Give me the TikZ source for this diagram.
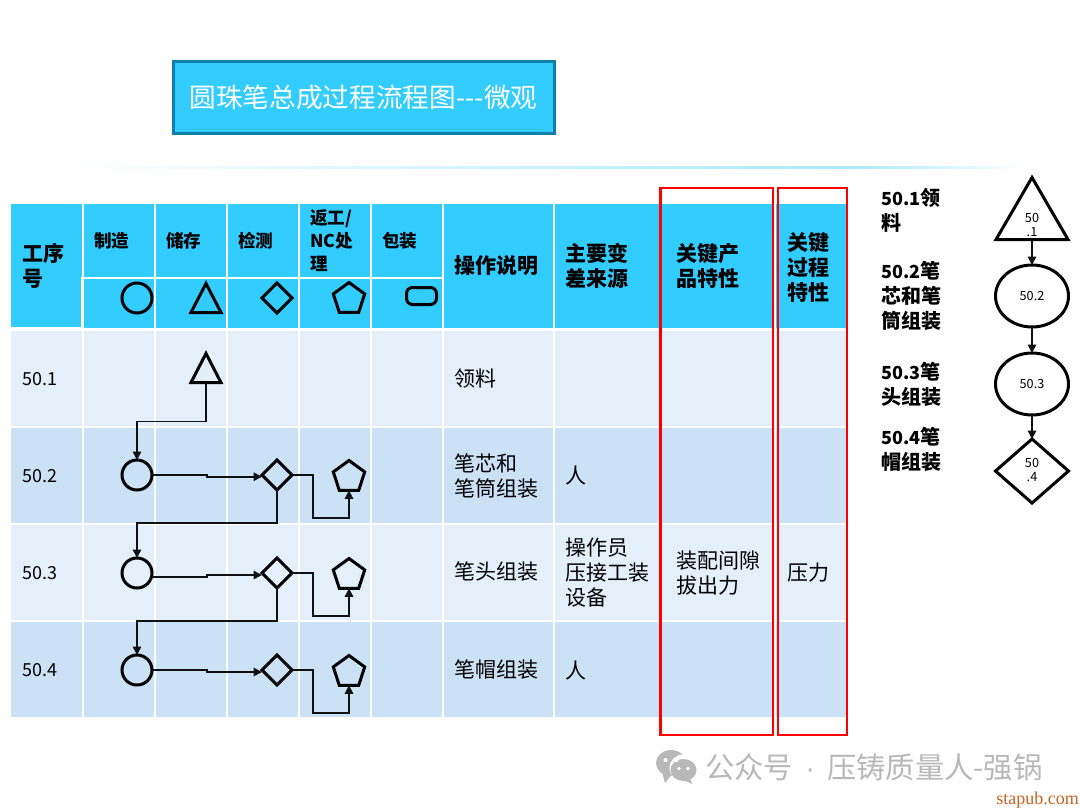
\documentclass[tikz,border=0pt]{standalone}
\usepackage{fontspec}
\setmainfont{Noto Sans CJK SC}
\newfontfamily\serifwm{Liberation Serif}
\newfontfamily\latinwm{Liberation Sans}
\usetikzlibrary{shapes.geometric,arrows.meta}
\definecolor{hdr}{HTML}{33CCFF}
\definecolor{rowa}{HTML}{E4EFF9}
\definecolor{rowb}{HTML}{CBE1F5}
\definecolor{titleedge}{HTML}{107FAB}
\definecolor{flowred}{HTML}{FF0000}
\definecolor{wm}{HTML}{B8B8B8}
\definecolor{wmo}{HTML}{C8641E}
\definecolor{ink}{HTML}{111111}
\newcommand{\fsz}[2]{\fontsize{#1}{#2}\selectfont}
\newcommand{\dg}[1]{{\fontsize{13.5}{18.75}\selectfont #1}}
\tikzset{
  x=0.75pt,y=-0.75pt,
  px/.style={line width=#1*0.75pt},
  sym/.style={draw=black,px=3,inner sep=0pt,outer sep=0pt},
  circ/.style={sym,circle,minimum size=30*0.75pt},
  tri/.style={sym,isosceles triangle,isosceles triangle apex angle=53,isosceles triangle stretches,shape border rotate=90,anchor=apex,minimum width=30*0.75pt,minimum height=29*0.75pt},
  dia/.style={sym,diamond,minimum size=30*0.75pt},
  penta/.style={sym,regular polygon,regular polygon sides=5,minimum size=33*0.75pt},
  conn/.style={draw=ink,px=1.6,-{Triangle[length=8.5*0.75pt,width=8.5*0.75pt]}},
  body/.style={anchor=west,inner sep=0pt,align=left,font=\fsz{15.75}{18.75},text=black},
  head/.style={anchor=west,inner sep=0pt,align=left,font=\fsz{15.75}{18.75}\bfseries,text=black},
  sub/.style={anchor=west,inner sep=0pt,align=left,font=\fsz{13.2}{17.25}\bfseries,text=black},
  side/.style={anchor=west,inner sep=0pt,align=left,font=\fsz{15}{18.75}\bfseries,text=black},
  mini/.style={inner sep=0pt,align=center,font=\fsz{9.5}{11},text=black},
  redbox/.style={draw=flowred,px=2.7},
}
\begin{document}
\begin{tikzpicture}
\useasboundingbox (0,0) rectangle (1080,810);
\fill[white] (0,0) rectangle (1080,810);
% title
\node[draw=titleedge,px=3,fill=hdr,minimum width=381*0.75pt,minimum height=72*0.75pt,inner sep=0pt,text=white,font=\fsz{20}{24}] (title) at (363.5,97.5) {圆珠笔总成过程流程图{-}{-}{-}微观};
% gradient rule
\shade[left color=white,right color=hdr!42] (50,166) rectangle (850,168.5);
\shade[left color=hdr!42,right color=white] (850,166) rectangle (1028,168.5);
% table rows
\fill[rowa] (11,331) rectangle (847,427);
\fill[rowb] (11,427) rectangle (847,524);
\fill[rowa] (11,524) rectangle (847,621);
\fill[rowb] (11,621) rectangle (847,717);
% header
\fill[hdr] (11,204) rectangle (847,328);
\fill[white] (11,327) rectangle (84,331);
\fill[white] (443,328) rectangle (847,331);
\fill[white] (84,329.5) rectangle (443,331);
\draw[white,px=3] (82,279) -- (82,331);
\draw[white,px=1.5] (81,278) -- (443,278);
\foreach \cx in {83,155,227,299,371,443,554,661,775}{
  \draw[white,px=1.5] (\cx,204) -- (\cx,717);
}
\foreach \ry in {427,524,621}{
  \draw[white,px=1.5] (11,\ry) -- (847,\ry);
}
% header text
\node[head] (h1) at (22,266) {工序\\号};
\node[sub] (h2) at (94,241) {制造};
\node[sub] (h3) at (166,241) {储存};
\node[sub] (h4) at (238,241) {检测};
\node[sub] (h5) at (310,241) {返工/\\NC处\\理};
\node[sub] (h6) at (382,241) {包装};
\node[head] (h7) at (454,266) {操作说明};
\node[head] (h8) at (565,266) {主要变\\差来源};
\node[head] (h9) at (676,266) {关键产\\品特性};
\node[head] (h10) at (787,267) {关键\\过程\\特性};
% header symbols
\node[circ] (s1) at (137,298) {};
\node[tri] (s2) at (206,283.5) {};
\node[dia] (s3) at (277,298) {};
\node[penta] (s4) at (349,299) {};
\node[sym,rounded corners=6*0.75pt,minimum width=30*0.75pt,minimum height=17*0.75pt] (s5) at (421.5,296) {};
% row text
\node[body] (r1) at (22,379) {\dg{50.1}};
\node[body] (r2) at (22,476) {\dg{50.2}};
\node[body] (r3) at (22,573) {\dg{50.3}};
\node[body] (r4) at (22,670) {\dg{50.4}};
\node[body] (o1) at (454,379) {领料};
\node[body] (o2) at (454,476) {笔芯和\\笔筒组装};
\node[body] (o3) at (454,572) {笔头组装};
\node[body] (o4) at (454,670) {笔帽组装};
\node[body] (v2) at (565,476) {人};
\node[body] (v3) at (565,573) {操作员\\压接工装\\设备};
\node[body] (v4) at (565,670) {人};
\node[body] (p3) at (676,573) {装配间隙\\拔出力};
\node[body] (q3) at (787,573) {压力};
% flow symbols
\node[tri] (t1) at (206,353.5) {};
\foreach \i/\y in {2/475,3/573,4/670}{
  \node[circ] (c\i) at (137,\y) {};
  \node[dia] (d\i) at (277,\y) {};
  \node[penta] (f\i) at (349,\y+2) {};
}
% connectors
\draw[conn] (t1.south) -- ++(0,39) -| (c2.north);
\draw[conn] (d2.south) -- ++(0,33) -| (c3.north);
\draw[conn] (d3.south) -- ++(0,33) -| (c4.north);
\coordinate (j2) at ([yshift=-1.3pt]d2.west);
\coordinate (j3) at ([yshift=-1.5pt]d3.west);
\coordinate (j4) at ([yshift=-1.5pt]d4.west);
\coordinate (k3) at ([yshift=-3pt]c3.east);
\draw[conn] (c2.east) -- ++(55,0) |- (j2);
\draw[conn] (k3) -- ++(55,0) |- (j3);
\draw[conn] (c4.east) -- ++(55,0) |- (j4);
\foreach \i in {2,3,4}{
  \draw[conn] (d\i.east) -- ++(21,0) -- ++(0,43) -| (f\i.south);
}
% red boxes
\draw[redbox] (660.5,188) rectangle (773,735);
\draw[redbox] (778,188) rectangle (847,735);
% side labels
\node[side] (l1) at (881,210) {\dg{50.1}领\\料};
\node[side] (l2) at (881,296) {\dg{50.2}笔\\芯和笔\\筒组装};
\node[side] (l3) at (881,384) {\dg{50.3}笔\\头组装};
\node[side] (l4) at (881,449) {\dg{50.4}笔\\帽组装};
% side flow
\node[sym,isosceles triangle,isosceles triangle apex angle=60,isosceles triangle stretches,shape border rotate=90,anchor=apex,minimum width=72*0.75pt,minimum height=62*0.75pt] (a1) at (1032,177.5) {};
\node[sym,ellipse,minimum width=73*0.75pt,minimum height=62*0.75pt] (a2) at (1032,296) {};
\node[sym,ellipse,minimum width=73*0.75pt,minimum height=62*0.75pt] (a3) at (1032,384) {};
\node[sym,diamond,minimum width=73*0.75pt,minimum height=64*0.75pt] (a4) at (1032,471) {};
\node[mini] (m1) at (1032,225) {50\\.1};
\node[mini] (m2) at (1032,296) {50.2};
\node[mini] (m3) at (1032,384) {50.3};
\node[mini] (m4) at (1032,470) {50\\.4};
\draw[conn] (a1.south) -- (a2.north);
\draw[conn] (a2.south) -- (a3.north);
\draw[conn] (a3.south) -- (a4.north);
% watermark
\fill[wm] (671,763) ellipse [x radius=15,y radius=13];
\fill[wm] (662,772) -- (665,783) -- (672,774) -- cycle;
\fill[white] (683,768) circle (13.5);
\fill[wm] (683.5,770) ellipse [x radius=13,y radius=11];
\fill[wm] (690,778) -- (692,784) -- (684,780) -- cycle;
\fill[white] (665.5,760) circle (2) (676.5,760) circle (2) (679,768.5) circle (1.8) (688,768.5) circle (1.8);
\node[inner sep=0pt,anchor=west,text=wm,font=\fsz{22}{26}] (wmk) at (705,767) {公众号\hspace{9pt}{\latinwm ·}\hspace{9pt}压铸质量人-强锅};
\node[inner sep=0pt,anchor=east,text=wmo,font=\serifwm\fsz{13.5}{16}] (wmu) at (1079,800) {stapub.com};
\end{tikzpicture}
\end{document}
